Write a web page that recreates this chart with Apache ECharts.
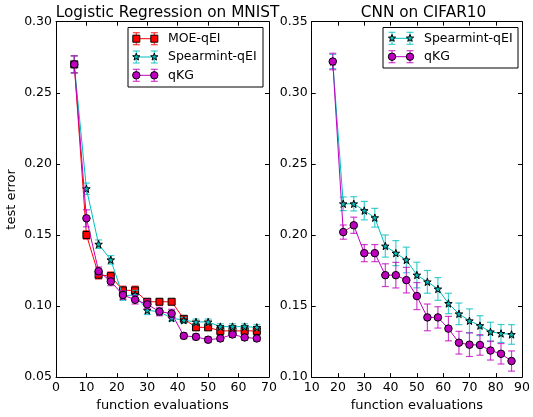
<!DOCTYPE html>
<html><head><meta charset="utf-8">
<script src="https://cdn.jsdelivr.net/npm/echarts@6/dist/echarts.min.js"></script>
<style>html,body{margin:0;padding:0;background:#fff}#c{width:533px;height:417px}</style>
</head><body><div id="c"></div>
<script>
// ---- data ----
var mnistX = [6,10,14,18,22,26,30,34,38,42,46,50,54,58,62,66];
var mnistMOE = [0.270,0.150,0.122,0.121,0.111,0.111,0.103,0.103,0.103,0.091,0.085,0.085,0.0825,0.0825,0.0825,0.0825];
var mnistMOEErr = [0.006,0.003,0.003,0.003,0.003,0.003,0.002,0.002,0.002,0.002,0.002,0.002,0.002,0.002,0.002,0.002];
var mnistSpear = [0.270,0.1825,0.1435,0.1325,0.107,0.108,0.097,0.096,0.0915,0.090,0.0888,0.0888,0.0855,0.0855,0.0855,0.085];
var mnistSpearErr = [0.006,0.004,0.003,0.003,0.003,0.003,0.003,0.002,0.002,0.002,0.002,0.002,0.002,0.002,0.002,0.002];
var mnistQKG = [0.270,0.1617,0.1245,0.1173,0.1078,0.1044,0.1012,0.0961,0.0947,0.079,0.0783,0.0763,0.0772,0.080,0.0779,0.0772];
var mnistQKGErr = [0.006,0.006,0.003,0.003,0.003,0.003,0.003,0.003,0.003,0.002,0.002,0.002,0.002,0.002,0.002,0.002];

var cifarX = [18,22,26,30,34,38,42,46,50,54,58,62,66,70,74,78,82,86];
var cifarSpear = [0.322,0.2219,0.2219,0.2171,0.2121,0.1922,0.1872,0.1824,0.1718,0.167,0.162,0.1518,0.1445,0.1396,0.1362,0.1318,0.1307,0.130];
var cifarSpearErr = [0.005,0.0048,0.005,0.0065,0.0066,0.0078,0.0088,0.009,0.009,0.008,0.008,0.0072,0.0076,0.0084,0.007,0.0068,0.0063,0.0069];
var cifarQKG = [0.322,0.202,0.2068,0.1872,0.1872,0.1717,0.1717,0.1682,0.157,0.142,0.142,0.1341,0.1242,0.1228,0.1226,0.1187,0.1164,0.1113];
var cifarQKGErr = [0.0058,0.005,0.0057,0.006,0.006,0.008,0.009,0.009,0.0095,0.0094,0.0075,0.0086,0.008,0.0083,0.0072,0.0067,0.0072,0.0071];

var leftYTicks = [0.05,0.30];
var rightYTicks = [0.10,0.35];
var leftXTicks = [0,70];
var rightXTicks = [10,90];
var titles = ['Logistic Regression on MNIST','CNN on CIFAR10'];

// ---- styles ----
var RED='#ff0000', CYAN='#00bfbf', MAG='#bf00bf';
var FONT='DejaVu Sans';
var STAR='path://M0,-10 L2.35,-3.24 L9.51,-3.09 L3.8,1.24 L5.88,8.09 L0,4 L-5.88,8.09 L-3.8,1.24 L-9.51,-3.09 L-2.35,-3.24 Z';

function errData(xs, ys, es){ return xs.map(function(x,i){return [x, ys[i]-es[i], ys[i]+es[i]];}); }
function lineData(xs, ys){ return xs.map(function(x,i){return [x, ys[i]];}); }

function errSeries(xs, ys, es, color, xi, yi, z){
  return {type:'custom', xAxisIndex:xi, yAxisIndex:yi, z:z, silent:true,
    data: errData(xs, ys, es),
    renderItem: function(params, api){
      var p1 = api.coord([api.value(0), api.value(1)]);
      var p2 = api.coord([api.value(0), api.value(2)]);
      var w = 3.5;
      var st = {stroke: color, lineWidth: 1.2, opacity: 0.75};
      return {type:'group', children:[
        {type:'line', shape:{x1:p1[0],y1:p1[1],x2:p2[0],y2:p2[1]}, style:st},
        {type:'line', shape:{x1:p1[0]-w,y1:p1[1],x2:p1[0]+w,y2:p1[1]}, style:st},
        {type:'line', shape:{x1:p2[0]-w,y1:p2[1],x2:p2[0]+w,y2:p2[1]}, style:st}
      ]};
    }};
}
function lineSeries(name, xs, ys, color, symbol, size, xi, yi, z){
  return {type:'line', name:name, xAxisIndex:xi, yAxisIndex:yi, z:z,
    data: lineData(xs, ys), symbol: symbol, symbolSize: size, showSymbol:true,
    lineStyle:{color:color, width:1}, itemStyle:{color:color, borderColor:'#000', borderWidth:1, opacity:1},
    emphasis:{disabled:true}};
}

var G0 = {left:56, right:264, top:21.7, bottom:33.3};
var G1 = {left:311.7, right:8, top:21.7, bottom:33.3};

function xAx(gi, min, max, pos, labels, name){
  return {type:'value', gridIndex:gi, min:min, max:max, interval:10, position:pos,
    axisLine:{show:true, onZero:false, lineStyle:{color:'#000', width:1}},
    axisTick:{show:true, inside:true, length:4, lineStyle:{color:'#000'}},
    axisLabel:{show:labels, color:'#000', fontFamily:FONT, fontSize:12.5, margin:4},
    splitLine:{show:false},
    name: name||'', nameLocation:'middle', nameGap:19,
    nameTextStyle:{color:'#000', fontFamily:FONT, fontSize:13}};
}
function yAx(gi, min, max, pos, labels, name){
  return {type:'value', gridIndex:gi, min:min, max:max, interval:0.05, position:pos,
    axisLine:{show:true, onZero:false, lineStyle:{color:'#000', width:1}},
    axisTick:{show:true, inside:true, length:4, lineStyle:{color:'#000'}},
    axisLabel:{show:labels, color:'#000', fontFamily:FONT, fontSize:12.5, margin:4,
      formatter:function(v){return v.toFixed(2);}},
    splitLine:{show:false},
    name: name||'', nameLocation:'middle', nameGap:38,
    nameTextStyle:{color:'#000', fontFamily:FONT, fontSize:13}};
}

// ---- legend (graphic) ----
function starPoints(cx, cy, r){
  var pts=[];
  for (var k=0;k<10;k++){
    var a = -Math.PI/2 + k*Math.PI/5;
    var rr = (k%2===0)? r : r*0.42;
    pts.push([cx+rr*Math.cos(a), cy+rr*Math.sin(a)]);
  }
  return pts;
}
function markerEl(kind, cx, cy, color){
  var st = {fill:color, stroke:'#000', lineWidth:1};
  if (kind==='rect') return {type:'rect', shape:{x:cx-3.5,y:cy-3.5,width:7,height:7}, style:st, z:102};
  if (kind==='circle') return {type:'circle', shape:{cx:cx,cy:cy,r:3.7}, style:st, z:102};
  return {type:'polygon', shape:{points:starPoints(cx,cy,3.8)}, style:st, z:102};
}
function legendRow(x1, x2, y, tx, color, kind, label){
  var st = {stroke:color, lineWidth:1.2, opacity:0.75};
  var els = [{type:'line', shape:{x1:x1,y1:y,x2:x2,y2:y}, style:{stroke:color, lineWidth:1}, z:101}];
  [x1,x2].forEach(function(x){
    els.push({type:'line', shape:{x1:x,y1:y-6,x2:x,y2:y+6}, style:st, z:101});
    els.push({type:'line', shape:{x1:x-3.5,y1:y-6,x2:x+3.5,y2:y-6}, style:st, z:101});
    els.push({type:'line', shape:{x1:x-3.5,y1:y+6,x2:x+3.5,y2:y+6}, style:st, z:101});
    els.push(markerEl(kind, x, y, color));
  });
  els.push({type:'text', x:tx, y:y, style:{text:label, fill:'#000', font:'12.5px "DejaVu Sans"', verticalAlign:'middle', align:'left'}, z:102});
  return els;
}
var graphics = [
  {type:'rect', shape:{x:128,y:27.5,width:135,height:59.5}, style:{fill:'#fff', stroke:'#000', lineWidth:1}, z:100},
  {type:'rect', shape:{x:383,y:27.5,width:135,height:40.5}, style:{fill:'#fff', stroke:'#000', lineWidth:1}, z:100}
];
graphics = graphics
  .concat(legendRow(136.3,154.3,38.7,168,RED,'rect','MOE-qEI'))
  .concat(legendRow(136.3,154.3,57,168,CYAN,'star','Spearmint-qEI'))
  .concat(legendRow(136.3,154.3,75.3,168,MAG,'circle','qKG'))
  .concat(legendRow(392,410,38.3,424,CYAN,'star','Spearmint-qEI'))
  .concat(legendRow(392,410,56.7,424,MAG,'circle','qKG'));

var option = {
  animation:false,
  backgroundColor:'#fff',
  textStyle:{fontFamily:FONT},
  title:[
    {text:titles[0], left:162.5, textAlign:'center', top:1, textStyle:{fontFamily:FONT, fontSize:15.3, fontWeight:'normal', color:'#000'}},
    {text:titles[1], left:418.5, textAlign:'center', top:1, textStyle:{fontFamily:FONT, fontSize:15.3, fontWeight:'normal', color:'#000'}}
  ],
  grid:[G0, G1],
  xAxis:[
    xAx(0, leftXTicks[0], leftXTicks[1], 'bottom', true, 'function evaluations'),
    xAx(0, leftXTicks[0], leftXTicks[1], 'top', false),
    xAx(1, rightXTicks[0], rightXTicks[1], 'bottom', true, 'function evaluations'),
    xAx(1, rightXTicks[0], rightXTicks[1], 'top', false)
  ],
  yAxis:[
    yAx(0, leftYTicks[0], leftYTicks[1], 'left', true, 'test error'),
    yAx(0, leftYTicks[0], leftYTicks[1], 'right', false),
    yAx(1, rightYTicks[0], rightYTicks[1], 'left', true),
    yAx(1, rightYTicks[0], rightYTicks[1], 'right', false)
  ],
  graphic: graphics,
  series:[
    errSeries(mnistX, mnistMOE, mnistMOEErr, RED, 0, 0, 2),
    lineSeries('MOE-qEI', mnistX, mnistMOE, RED, 'rect', 7, 0, 0, 3),
    errSeries(mnistX, mnistSpear, mnistSpearErr, CYAN, 0, 0, 4),
    lineSeries('Spearmint-qEI', mnistX, mnistSpear, CYAN, STAR, 7.5, 0, 0, 5),
    errSeries(mnistX, mnistQKG, mnistQKGErr, MAG, 0, 0, 6),
    lineSeries('qKG', mnistX, mnistQKG, MAG, 'circle', 7.5, 0, 0, 7),
    errSeries(cifarX, cifarSpear, cifarSpearErr, CYAN, 2, 2, 4),
    lineSeries('Spearmint-qEI', cifarX, cifarSpear, CYAN, STAR, 7.5, 2, 2, 5),
    errSeries(cifarX, cifarQKG, cifarQKGErr, MAG, 2, 2, 6),
    lineSeries('qKG', cifarX, cifarQKG, MAG, 'circle', 7.5, 2, 2, 7)
  ]
};
var chart = echarts.init(document.getElementById('c'), null, {renderer:'canvas'});
chart.setOption(option);
</script></body></html>
